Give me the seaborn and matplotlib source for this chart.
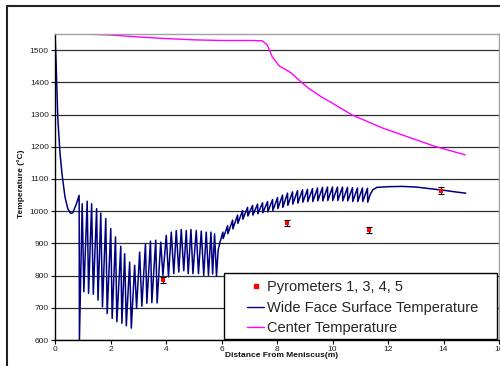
import matplotlib
matplotlib.use("Agg")
import matplotlib.pyplot as plt
import seaborn as sns
from matplotlib.patches import Rectangle
from matplotlib.lines import Line2D

# ---------------- data ----------------
center_x = [0.0, 1.0, 2.0, 3.0, 4.0, 5.0, 6.0, 7.0, 7.47, 7.65, 7.83, 8.08, 8.5,
            8.87, 9.16, 9.58, 10.0, 10.7, 11.78, 13.0, 13.7, 14.78]
center_y = [1550, 1550, 1547, 1541, 1536, 1532, 1530, 1530, 1529, 1516, 1479, 1451, 1430,
            1401, 1380, 1356, 1335, 1299, 1259, 1222, 1201, 1175]

wide_x = [0.00, 0.04, 0.10, 0.18, 0.26, 0.36, 0.46, 0.56, 0.64, 0.76, 0.87, 0.88,
          0.98, 1.04, 1.16, 1.21, 1.32, 1.38, 1.50, 1.55, 1.65, 1.71, 1.83, 1.88,
          2.01, 2.06, 2.18, 2.23, 2.37, 2.41, 2.51, 2.57, 2.69, 2.75, 2.87, 2.94,
          3.05, 3.13, 3.26, 3.31, 3.44, 3.49, 3.63, 3.68, 3.81, 3.89, 4.01, 4.09,
          4.19, 4.28, 4.37, 4.46, 4.55, 4.64, 4.73, 4.80, 4.90, 4.97, 5.09, 5.17,
          5.27, 5.36, 5.45, 5.53, 5.62, 5.68, 5.75, 5.82, 5.88, 5.95,
          6.05, 6.06, 6.22, 6.23, 6.40, 6.41, 6.58, 6.59, 6.76, 6.77, 6.94, 6.95,
          7.12, 7.13, 7.30, 7.31, 7.48, 7.49, 7.66, 7.67, 7.84, 7.85, 8.02, 8.03,
          8.20, 8.21, 8.38, 8.39, 8.56, 8.57, 8.74, 8.75, 8.92, 8.93, 9.10, 9.11,
          9.28, 9.29, 9.46, 9.47, 9.64, 9.65, 9.82, 9.83, 10.00, 10.01, 10.18, 10.19,
          10.36, 10.37, 10.54, 10.55, 10.72, 10.73, 10.90, 10.91, 11.08, 11.09,
          11.26, 11.27, 11.35, 11.45, 11.60, 12.00, 12.50, 13.00, 13.50, 14.00,
          14.50, 14.80]
wide_y = [1550, 1460, 1290, 1180, 1110, 1044, 1008, 993, 995, 1020, 1049, 600,
          1023, 750, 1031, 745, 1023, 742, 1008, 724, 994, 703, 977, 682,
          946, 667, 920, 657, 891, 652, 868, 644, 842, 637, 832, 698,
          873, 705, 899, 714, 907, 716, 910, 715, 904, 801, 925, 796,
          935, 806, 940, 811, 943, 815, 940, 806, 943, 806, 940, 806,
          938, 801, 935, 801, 935, 805, 930, 798, 880, 905,
          935, 915, 955, 930, 972, 945, 988, 962, 1002, 975, 1012, 985,
          1018, 988, 1022, 992, 1026, 995, 1030, 998, 1036, 1002, 1042, 1008,
          1050, 1012, 1056, 1018, 1060, 1022, 1064, 1025, 1066, 1028, 1068, 1030,
          1070, 1030, 1072, 1032, 1074, 1032, 1075, 1033, 1075, 1033, 1075, 1033,
          1075, 1032, 1074, 1032, 1073, 1030, 1072, 1030, 1072, 1030,
          1071, 1028, 1050, 1066, 1074, 1076, 1077, 1075, 1070, 1065,
          1059, 1056]

pyro_x = [3.89, 8.35, 11.33, 13.9]
pyro_y = [786, 964, 941, 1064]
pyro_err = [9, 10, 10, 10]

legend_labels = ["Pyrometers 1, 3, 4, 5", "Wide Face Surface Temperature", "Center Temperature"]
x_ticks = [0, 2, 4, 6, 8, 10, 12, 14, 16]
y_ticks = [600, 700, 800, 900, 1000, 1100, 1200, 1300, 1400, 1500]

# ---------------- style ----------------
sns.set_theme(style="white")
plt.rcParams["font.family"] = ["Liberation Sans", "DejaVu Sans"]

fig = plt.figure(figsize=(5, 3.66), dpi=100)
fig.patch.set_facecolor("white")
ax = fig.add_axes([0.11, 0.071, 0.888, 0.836])

# outer chart frame
fig.patches.append(Rectangle((0.014, -0.1), 1.2, 1.0836, transform=fig.transFigure,
                             fill=False, ec="#222222", lw=1.5))

navy = "#000080"
magenta = "#FF00FF"

sns.lineplot(x=wide_x, y=wide_y, ax=ax, color=navy, lw=1.1, sort=False, estimator=None)
sns.lineplot(x=center_x, y=center_y, ax=ax, color=magenta, lw=1.0, sort=False, estimator=None)
ax.errorbar(pyro_x, pyro_y, yerr=pyro_err, fmt="none", ecolor="black",
            elinewidth=0.8, capsize=2, capthick=0.8, zorder=4)
sns.scatterplot(x=pyro_x, y=pyro_y, ax=ax, marker="s", color="red", s=8,
                edgecolor="none", zorder=5)

ax.set_xlim(0, 16)
ax.set_ylim(600, 1550)
ax.set_xticks(x_ticks)
ax.set_yticks(y_ticks)
ax.tick_params(axis="both", direction="out", length=3, width=0.8, color="black",
               labelsize=6, pad=1.5, labelcolor="#222222", bottom=True, left=True)

ax.set_axisbelow(True)
ax.yaxis.grid(True, color="#303030", lw=0.9)
ax.xaxis.grid(False)

for s in ["left", "bottom"]:
    ax.spines[s].set_color("black")
    ax.spines[s].set_linewidth(1.0)
for s in ["top", "right"]:
    ax.spines[s].set_color("#a0a0a0")
    ax.spines[s].set_linewidth(1.0)

ax.set_xlabel("Distance From Meniscus(m)", fontsize=6, fontweight="bold", color="#111111")
ax.set_ylabel("Temperature (\u00b0C)", fontsize=6, fontweight="bold", color="#111111")
ax.xaxis.set_label_coords(0.511, -0.04)
ax.yaxis.set_label_coords(-0.068, 0.51)

# legend box + legend
ax.add_patch(Rectangle((0.381, 0.003), 0.614, 0.216, transform=ax.transAxes,
                       fc="white", ec="black", lw=1.0, zorder=6, clip_on=False))
handles = [Line2D([], [], marker="s", color="red", ls="none", markersize=2.5),
           Line2D([], [], color=navy, lw=1.0),
           Line2D([], [], color=magenta, lw=1.0)]
leg = ax.legend(handles, legend_labels, loc="upper left", bbox_to_anchor=(0.432, 0.196),
                frameon=False, fontsize=10.5, handlelength=1.2, handletextpad=0.2,
                labelspacing=0.46, borderpad=0, borderaxespad=0)
leg.set_zorder(7)

fig.savefig("out.png", dpi=100)
